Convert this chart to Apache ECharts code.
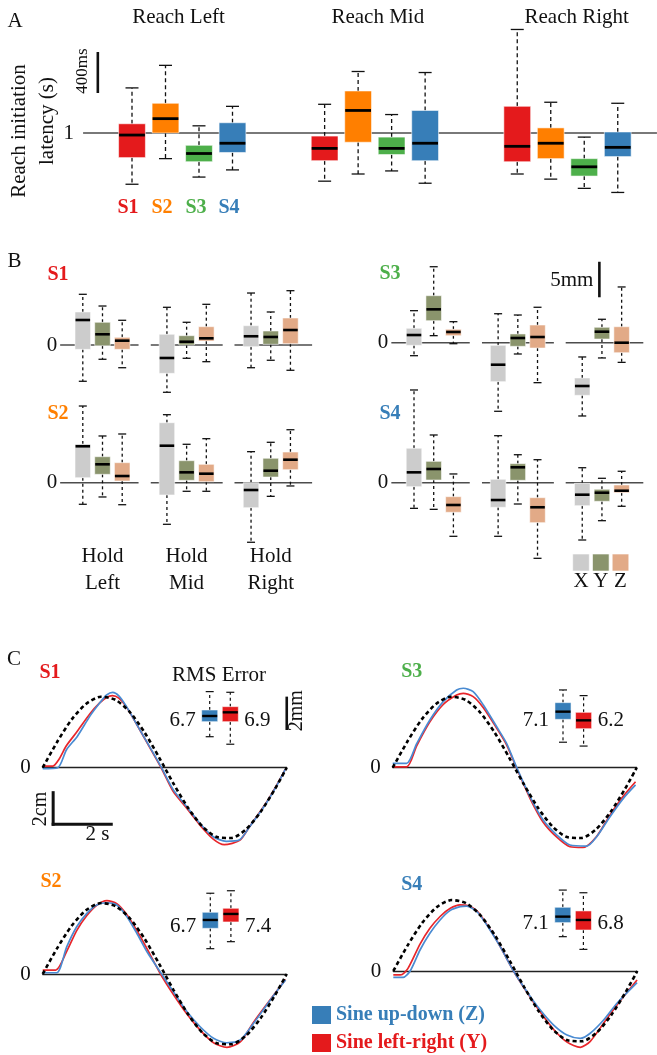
<!DOCTYPE html>
<html><head><meta charset="utf-8">
<script src="https://cdn.jsdelivr.net/npm/echarts@6/dist/echarts.min.js"></script>
<style>html,body{margin:0;padding:0;background:#fff}#c{width:657px;height:1055px}</style>
</head><body><div id="c"></div>
<script>
// ================= DATA =================
// ---- Panel A: reach initiation latency (s), [min, q1, median, q3, max] per reach target
const reachTargets = ['Reach Left', 'Reach Mid', 'Reach Right'];
const subjectNames = ['S1', 'S2', 'S3', 'S4'];
const latencyS1 = [[0.50, 0.76, 0.98, 1.09, 1.44], [0.53, 0.73, 0.85, 0.97, 1.28], [0.60, 0.72, 0.87, 1.26, 2.01]];
const latencyS2 = [[0.75, 1.00, 1.14, 1.29, 1.66], [0.60, 0.91, 1.22, 1.41, 1.60], [0.55, 0.75, 0.90, 1.05, 1.30]];
const latencyS3 = [[0.57, 0.72, 0.80, 0.88, 1.07], [0.63, 0.79, 0.85, 0.96, 1.18], [0.46, 0.58, 0.67, 0.75, 0.96]];
const latencyS4 = [[0.64, 0.81, 0.90, 1.10, 1.26], [0.51, 0.73, 0.90, 1.22, 1.59], [0.42, 0.77, 0.86, 1.01, 1.29]];
const latencyReference = 1;          // s
const latencyScaleBar = [1.39, 1.79]; // 400 ms bar

// ---- Panel B: hold error (mm), per hold target: [X, Y, Z] each [min, q1, median, q3, max]
const holdTargets = [['Hold', 'Left'], ['Hold', 'Mid'], ['Hold', 'Right']];
const holdAxes = ['X', 'Y', 'Z'];
const holdS1 = [
  [[-5.11, -0.61, 3.52, 4.65, 7.14], [-2.01, -0.10, 1.51, 3.20, 5.49], [-3.20, -0.61, 0.61, 1.08, 3.48]],
  [[-6.66, -3.99, -1.83, 1.51, 5.31], [-1.87, 0.00, 0.46, 1.31, 3.20], [-2.35, 0.56, 0.94, 2.58, 5.73]],
  [[-3.20, -0.24, 1.23, 2.72, 7.32], [-2.15, 0.10, 1.13, 1.97, 4.65], [-3.56, 0.18, 2.11, 3.80, 7.65]]
];
const holdS2 = [
  [[-3.04, 0.70, 5.13, 5.45, 10.80], [-2.01, 1.18, 2.59, 3.66, 6.58], [-3.10, 0.24, 0.94, 2.82, 6.86]],
  [[-5.86, -1.73, 5.21, 8.45, 9.58], [-1.21, 0.34, 1.46, 3.10, 5.41], [-1.21, 0.14, 1.27, 2.59, 6.20]],
  [[-8.39, -3.52, -1.03, 0.00, 4.37], [-1.92, 0.80, 1.69, 3.44, 5.69], [-0.46, 1.83, 3.24, 4.32, 7.46]]
];
const holdS3 = [
  [[-1.83, -0.37, 1.08, 2.03, 4.51], [0.99, 3.10, 4.70, 6.62, 10.70], [-0.14, 0.99, 1.51, 1.89, 2.96]],
  [[-9.66, -5.49, -3.10, -0.37, 4.08], [-1.59, -0.51, 0.66, 1.23, 3.90], [-5.63, -0.75, 0.80, 2.49, 4.99]],
  [[-10.32, -7.41, -6.10, -4.97, -2.01], [-2.15, 0.52, 1.55, 2.17, 3.30], [-2.77, -1.41, 0.00, 2.25, 7.85]]
];
const holdS4 = [
  [[-3.61, -0.56, 1.46, 4.85, 13.06], [-3.75, 0.38, 1.93, 3.01, 6.72], [-7.55, -4.17, -3.14, -1.97, 1.23]],
  [[-7.55, -3.46, -2.44, 0.48, 6.62], [-3.00, 0.34, 2.17, 2.68, 3.94], [-10.65, -5.63, -3.46, -2.11, 3.24]],
  [[-8.07, -3.24, -1.69, -0.08, 2.11], [-5.35, -2.62, -1.41, -0.93, 0.62], [-3.32, -1.41, -1.13, -0.32, 1.61]]
];
const holdScaleBar = [6.4, 11.4]; // 5 mm bar

// ---- Panel C: sine tracking traces, [time (s), position (cm)]
const targetSine = [[0, 0], [0.5, 1.64], [1, 3.06], [1.5, 4.05], [2, 4.49], [2.5, 4.30], [3, 3.52], [3.5, 2.25], [4, 0.67],
  [4.5, -1.00], [5, -2.53], [5.5, -3.72], [6, -4.39], [6.5, -4.45], [7, -3.90], [7.5, -2.80], [8, -1.33], [8.4, 0]];
const traceS1Z = [[0, -0.06], [0.52, 0], [0.82, 1.14], [1.19, 1.98], [1.62, 3.25], [1.96, 4.09], [2.2, 4.6], [2.41, 4.77], [2.62, 4.55],
  [2.88, 3.88], [3.34, 2.41], [3.74, 1.14], [4.09, 0], [4.49, -1.39], [4.95, -2.45], [5.40, -3.50], [5.86, -4.35], [6.32, -4.66],
  [6.78, -4.56], [7.13, -3.72], [7.70, -2.23], [8.04, -1.18], [8.35, -0.1]];
const traceS1Y = [[0, 0.1], [0.35, 0.1], [0.55, 0.5], [0.82, 1.4], [1.19, 2.3], [1.62, 3.4], [1.96, 4.1], [2.2, 4.45], [2.4, 4.56],
  [2.62, 4.4], [2.88, 3.85], [3.34, 2.4], [3.74, 1.1], [4.09, -0.05], [4.49, -1.5], [4.95, -2.55], [5.40, -3.6], [5.86, -4.5],
  [6.25, -4.87], [6.78, -4.6], [7.13, -3.7], [7.70, -2.2], [8.04, -1.15], [8.35, -0.1]];
const traceS2Z = [[0, 0.08], [0.48, 0.08], [0.83, 1.73], [1.17, 2.99], [1.52, 3.84], [1.86, 4.37], [2.21, 4.51], [2.55, 4.37],
  [2.90, 3.63], [3.24, 2.58], [3.59, 1.41], [4.04, 0.15], [4.50, -1.12], [4.97, -2.39], [5.42, -3.34], [5.88, -4.07],
  [6.34, -4.35], [6.80, -4.18], [7.26, -3.12], [7.72, -1.94], [8.07, -1.06], [8.36, -0.38]];
const traceS2Y = [[0, 0.25], [0.45, 0.25], [0.83, 1.45], [1.17, 2.75], [1.52, 3.7], [1.86, 4.35], [2.21, 4.64], [2.55, 4.45],
  [2.90, 3.75], [3.24, 2.75], [3.59, 1.6], [4.04, 0.05], [4.50, -1.3], [4.97, -2.55], [5.42, -3.55], [5.88, -4.35],
  [6.34, -4.64], [6.80, -4.3], [7.26, -3.05], [7.72, -1.9], [8.07, -1.05], [8.36, -0.35]];
const traceS3Z = [[0, 0.28], [0.48, 0.28], [0.83, 1.54], [1.28, 3.02], [1.74, 4.18], [2.20, 4.92], [2.43, 5.03], [2.77, 4.81],
  [3.12, 3.97], [3.58, 2.59], [3.92, 1.54], [4.27, 0], [4.73, -1.84], [5.18, -3.31], [5.65, -4.26], [6.10, -4.89],
  [6.68, -4.96], [7.02, -4.37], [7.48, -3.10], [7.94, -1.94], [8.36, -1.09]];
const traceS3Y = [[0, 0.05], [0.48, 0.05], [0.83, 1.4], [1.28, 2.9], [1.74, 4.0], [2.20, 4.6], [2.43, 4.71], [2.77, 4.5],
  [3.12, 3.8], [3.58, 2.5], [3.92, 1.45], [4.27, -0.05], [4.73, -1.95], [5.18, -3.45], [5.65, -4.4], [6.10, -5.0],
  [6.55, -5.05], [7.02, -4.35], [7.48, -3.0], [7.94, -1.8], [8.36, -0.89]];
const traceS4Z = [[0, -0.40], [0.34, -0.40], [0.58, 0], [0.92, 1.33], [1.26, 2.39], [1.61, 3.23], [1.95, 3.82], [2.30, 4.07],
  [2.53, 4.11], [2.88, 3.75], [3.22, 2.91], [3.68, 1.54], [4.14, 0], [4.60, -1.31], [5.06, -2.47], [5.52, -3.42],
  [5.98, -4.05], [6.44, -4.26], [6.78, -3.94], [7.24, -3.10], [7.70, -2.04], [8.39, -0.74]];
const traceS4Y = [[0, -0.25], [0.25, -0.25], [0.5, 0.15], [0.92, 1.7], [1.26, 2.7], [1.61, 3.45], [1.95, 3.95], [2.30, 4.18],
  [2.53, 4.15], [2.88, 3.8], [3.22, 2.95], [3.68, 1.55], [4.14, 0], [4.60, -1.35], [5.06, -2.6], [5.52, -3.7],
  [5.98, -4.5], [6.44, -4.83], [6.78, -4.45], [7.24, -3.3], [7.70, -2.15], [8.39, -0.57]];
// RMS error (mm) boxes [min, q1, median, q3, max]: [up-down (Z), left-right (Y)]
const rmsS1 = [[5.46, 6.36, 6.70, 7.06, 8.16], [5.01, 6.36, 6.92, 7.26, 8.12]];
const rmsS2 = [[5.12, 6.34, 6.84, 7.30, 8.44], [5.54, 6.72, 7.20, 7.54, 8.59]];
const rmsS3 = [[5.13, 6.50, 6.96, 7.50, 8.26], [4.90, 5.94, 6.44, 6.92, 7.92]];
const rmsS4 = [[5.66, 6.50, 6.86, 7.42, 8.45], [4.90, 6.06, 6.66, 7.20, 8.29]];
const rmsLabelsS1 = ['6.7', '6.9'];
const rmsLabelsS2 = ['6.7', '7.4'];
const rmsLabelsS3 = ['7.1', '6.2'];
const rmsLabelsS4 = ['7.1', '6.8'];
const traceScaleBar = { t0: 0.36, v0: -3.58, dv: 2, dt: 2 };  // 2 cm, 2 s
const rmsScaleBar = [5.86, 7.86];                               // 2 mm
const legendNames = ['Sine up-down (Z)', 'Sine left-right (Y)'];

// ================= STYLE =================
const SERIF = "'Liberation Serif','Times New Roman','DejaVu Serif',serif";
const INK = '#111';
const subjectColors = ['#e41a1c', '#ff7f00', '#4daf4a', '#377eb8'];
const axisColors = ['#cccccc', '#8a946c', '#e2aa87'];
const traceBlue = '#4a8bd2', traceRed = '#e8262b';

// ================= LAYOUT =================
const grids = [], xAxes = [], yAxes = [], series = [], graphics = [];
function addGrid(box, xr, yr, yAxisExtra, xAxisExtra) {
  const idx = grids.length;
  grids.push(Object.assign({ containLabel: false, outerBoundsMode: 'none', show: false }, box));
  xAxes.push(Object.assign({ gridIndex: idx, type: 'value', min: xr[0], max: xr[1], show: false }, xAxisExtra || {}));
  yAxes.push(Object.assign({ gridIndex: idx, type: 'value', min: yr[0], max: yr[1], show: false }, yAxisExtra || {}));
  return idx;
}
function singleLabelAxis(val, text, margin, size) {
  return {
    show: true, interval: 0.5, axisLine: { show: false }, axisTick: { show: false }, splitLine: { show: false },
    axisLabel: { show: true, margin: margin, fontFamily: SERIF, fontSize: size, color: INK,
      formatter: v => (Math.abs(v - val) < 1e-6 ? text : '') }
  };
}
function makeBoxRenderer(cfg) {
  return function (params, api) {
    const x = api.value(0);
    const pMin = api.coord([x, api.value(1)]);
    const pQ1 = api.coord([x, api.value(2)]);
    const pMed = api.coord([x, api.value(3)]);
    const pQ3 = api.coord([x, api.value(4)]);
    const pMax = api.coord([x, api.value(5)]);
    const cx = pMed[0];
    const bw = api.size([cfg.boxWidth, 0])[0];
    const cw = cfg.capWidth;
    const fill = cfg.colors ? cfg.colors[params.dataIndex] : cfg.color;
    const dashStyle = { stroke: INK, lineWidth: cfg.whiskerWidth, lineDash: cfg.dash };
    const capStyle = { stroke: INK, lineWidth: cfg.whiskerWidth };
    const ch = [
      { type: 'line', shape: { x1: cx, y1: pQ3[1], x2: cx, y2: pMax[1] }, style: dashStyle },
      { type: 'line', shape: { x1: cx, y1: pQ1[1], x2: cx, y2: pMin[1] }, style: dashStyle },
      { type: 'line', shape: { x1: cx - cw / 2, y1: pMax[1], x2: cx + cw / 2, y2: pMax[1] }, style: capStyle },
      { type: 'line', shape: { x1: cx - cw / 2, y1: pMin[1], x2: cx + cw / 2, y2: pMin[1] }, style: capStyle },
      { type: 'rect', shape: { x: cx - bw / 2, y: pQ3[1], width: bw, height: pQ1[1] - pQ3[1] },
        style: { fill: fill, stroke: 'rgba(255,255,255,0.55)', lineWidth: 1 } },
      { type: 'line', shape: { x1: cx - bw / 2 + 0.5, y1: pMed[1], x2: cx + bw / 2 - 0.5, y2: pMed[1] },
        style: { stroke: '#000', lineWidth: cfg.medianWidth } }
    ];
    if (cfg.labels) {
      const left = params.dataIndex === 0;
      const ly = api.coord([x, cfg.labelAt])[1] + 4;
      ch.push({ type: 'text', x: left ? cx - bw / 2 - 6 : cx + bw / 2 + 6, y: ly,
        style: { text: cfg.labels[params.dataIndex], font: '21px ' + SERIF, fill: INK,
          textAlign: left ? 'right' : 'left', textVerticalAlign: 'middle', align: left ? 'right' : 'left', verticalAlign: 'middle' } });
    }
    return { type: 'group', children: ch };
  };
}
function segmentSeries(gi, segs, style, z) {
  return {
    type: 'custom', xAxisIndex: gi, yAxisIndex: gi, silent: true, z: z || 1,
    data: segs,
    renderItem: function (params, api) {
      const p1 = api.coord([api.value(0), api.value(1)]);
      const p2 = api.coord([api.value(2), api.value(3)]);
      return { type: 'line', shape: { x1: p1[0], y1: p1[1], x2: p2[0], y2: p2[1] }, style: style };
    }
  };
}
function T(x, y, text, size, opt) {
  opt = opt || {};
  const al = opt.align || 'center';
  graphics.push({ type: 'text', x: x, y: y, rotation: opt.rot || 0, silent: true, z: 100,
    style: { text: text, font: (opt.bold ? 'bold ' : '') + size + 'px ' + SERIF, fill: opt.color || INK,
      textAlign: al, textVerticalAlign: 'middle', align: al, verticalAlign: 'middle' } });
}

// ---------- Panel A ----------
const A_px = 33.5, A_py = 102.5, A_x0 = 132, A_y1 = 133;  // px per unit, anchor pixels
const A_xr = [-0.46, 16.67], A_yr = [0.4, 2.1], A_groupStep = 5.75;
const gA = addGrid({ left: A_x0 + (A_xr[0] - 1) * A_px, top: A_y1 - (A_yr[1] - 1) * A_py,
  width: (A_xr[1] - A_xr[0]) * A_px, height: (A_yr[1] - A_yr[0]) * A_py }, A_xr, A_yr,
  Object.assign(singleLabelAxis(latencyReference, '1', 9, 21), { interval: 0.1 }));
series.push(segmentSeries(gA, [[A_xr[0], latencyReference, A_xr[1], latencyReference]], { stroke: '#4d4d4d', lineWidth: 1.5 }, 1));
[latencyS1, latencyS2, latencyS3, latencyS4].forEach((arr, s) => {
  series.push({ type: 'custom', name: subjectNames[s], xAxisIndex: gA, yAxisIndex: gA, silent: true, z: 3,
    renderItem: makeBoxRenderer({ color: subjectColors[s], boxWidth: 0.8, capWidth: 13, whiskerWidth: 1.3, dash: [4, 3], medianWidth: 2.8 }),
    data: arr.map((q, g) => [A_groupStep * g + s + 1].concat(q)) });
});
series.push(segmentSeries(gA, [[-0.02, latencyScaleBar[0], -0.02, latencyScaleBar[1]]], { stroke: INK, lineWidth: 2.6 }, 4));
T(15, 21, 'A', 21);
const A_titleX = [178.5, 377.8, 576.7];
reachTargets.forEach((t, i) => T(A_titleX[i], 17, t, 21));
[128, 162, 196, 229].forEach((x, s) => T(x, 207.5, subjectNames[s], 20, { bold: true, color: subjectColors[s] }));
T(19, 131, 'Reach initiation', 21, { rot: Math.PI / 2 });
T(47, 121, 'latency (s)', 21, { rot: Math.PI / 2 });
T(83, 71, '400ms', 17, { rot: Math.PI / 2 });

// ---------- Panel B ----------
const B_px = 19.7, B_py = 7.1, B_xr = [-1.1, 11.69], B_yr = [-11, 14], B_groupStep = 4.27;
const B_segStart = [-1.15, -0.82, -0.84], B_segEnd = [2.83, 2.83, 3.1];
const B_cells = [
  { data: holdS1, x0: 82.8, y0: 345, lx: 58, ly: 274.5 },
  { data: holdS2, x0: 82.8, y0: 482.7, lx: 58, ly: 414.2 },
  { data: holdS3, x0: 414, y0: 342.7, lx: 390, ly: 273.5 },
  { data: holdS4, x0: 414, y0: 482.7, lx: 390, ly: 414.2 }
];
const gB = [];
B_cells.forEach((cell, s) => {
  const gi = addGrid({ left: cell.x0 + B_xr[0] * B_px, top: cell.y0 - B_yr[1] * B_py,
    width: (B_xr[1] - B_xr[0]) * B_px, height: (B_yr[1] - B_yr[0]) * B_py }, B_xr, B_yr,
    Object.assign(singleLabelAxis(0, '0', 4, 21), { interval: 1 }));
  gB.push(gi);
  series.push(segmentSeries(gi, B_segStart.map((st, g) => [g * B_groupStep + st, 0, g * B_groupStep + B_segEnd[g], 0]),
    { stroke: '#4d4d4d', lineWidth: 1.5 }, 1));
  holdAxes.forEach((ax, k) => {
    series.push({ type: 'custom', name: subjectNames[s] + ' ' + ax, xAxisIndex: gi, yAxisIndex: gi, silent: true, z: 3,
      renderItem: makeBoxRenderer({ color: axisColors[k], boxWidth: 0.79, capWidth: 8, whiskerWidth: 1.3, dash: [3, 3], medianWidth: 2.6 }),
      data: cell.data.map((grp, g) => [g * B_groupStep + k].concat(grp[k])) });
  });
  T(cell.lx, cell.ly, subjectNames[s], 20, { bold: true, color: subjectColors[s] });
});
series.push(segmentSeries(gB[2], [[9.41, holdScaleBar[0], 9.41, holdScaleBar[1]]], { stroke: INK, lineWidth: 2.6 }, 4));
T(14.5, 261, 'B', 21);
T(593.3, 280.7, '5mm', 21, { align: 'right' });
const B_holdX = [102.5, 186.5, 270.8];
holdTargets.forEach((h, i) => { T(B_holdX[i], 556.5, h[0], 21); T(B_holdX[i], 583, h[1], 21); });
const B_legX = [581, 600.8, 620.5];
holdAxes.forEach((ax, k) => {
  graphics.push({ type: 'rect', x: B_legX[k] - 8.3, y: 554, silent: true, z: 100,
    shape: { x: 0, y: 0, width: 16.6, height: 17 }, style: { fill: axisColors[k], stroke: 'rgba(255,255,255,0.6)', lineWidth: 1 } });
  T(B_legX[k], 581.5, ax, 21);
});

// ---------- Panel C ----------
const C_px = 29.05, C_py = 15.8, C_xr = [0, 8.4], C_yr = [-5.5, 5.5];
const M_px = 20.6, M_py = 16.7, M_xr = [0.5, 2.5], M_yr = [4.5, 9], M_ref = 6.7;
const C_cells = [
  { z: traceS1Z, y: traceS1Y, rms: rmsS1, lab: rmsLabelsS1, x0: 42.7, y0: 767.7, mx: 209.7, lx: 50, ly: 672.5 },
  { z: traceS2Z, y: traceS2Y, rms: rmsS2, lab: rmsLabelsS2, x0: 42.7, y0: 974, mx: 210.3, lx: 51, ly: 881.8 },
  { z: traceS3Z, y: traceS3Y, rms: rmsS3, lab: rmsLabelsS3, x0: 392.7, y0: 767.7, mx: 563, lx: 411.7, ly: 671.8 },
  { z: traceS4Z, y: traceS4Y, rms: rmsS4, lab: rmsLabelsS4, x0: 393.3, y0: 971, mx: 562.8, lx: 411.7, ly: 884.5 }
];
const gC = [], gM = [];
C_cells.forEach((cell, s) => {
  const gi = addGrid({ left: cell.x0, top: cell.y0 - C_yr[1] * C_py, width: (C_xr[1] - C_xr[0]) * C_px,
    height: (C_yr[1] - C_yr[0]) * C_py }, C_xr, C_yr,
    singleLabelAxis(0, '0', 12, 21),
    { show: true, axisLine: { show: true, onZero: true, lineStyle: { color: '#222', width: 1.3 } },
      axisTick: { show: false }, axisLabel: { show: false }, splitLine: { show: false } });
  gC.push(gi);
  const lineBase = { type: 'line', xAxisIndex: gi, yAxisIndex: gi, showSymbol: false, symbol: 'none', smooth: 0.25, silent: true };
  series.push(Object.assign({}, lineBase, { name: legendNames[1], data: cell.y, z: 2,
    lineStyle: { color: traceRed, width: 1.7 }, itemStyle: { color: subjectColors[0] } }));
  series.push(Object.assign({}, lineBase, { name: legendNames[0], data: cell.z, z: 3,
    lineStyle: { color: traceBlue, width: 1.7 }, itemStyle: { color: subjectColors[3] } }));
  series.push(Object.assign({}, lineBase, { name: 'Target', data: targetSine, z: 4,
    lineStyle: { color: '#000', width: 2.6, type: [4, 3] } }));
  // RMS mini box plot
  const anchor = cell.y0 - 51.7;
  const mi = addGrid({ left: cell.mx - (1 - M_xr[0]) * M_px, top: anchor - (M_yr[1] - M_ref) * M_py,
    width: (M_xr[1] - M_xr[0]) * M_px, height: (M_yr[1] - M_yr[0]) * M_py }, M_xr, M_yr);
  gM.push(mi);
  series.push({ type: 'custom', name: 'RMS ' + subjectNames[s], xAxisIndex: mi, yAxisIndex: mi, silent: true, z: 5,
    renderItem: makeBoxRenderer({ colors: [subjectColors[3], subjectColors[0]], boxWidth: 0.78, capWidth: 8, whiskerWidth: 1.2,
      dash: [3, 3], medianWidth: 2.4, labels: cell.lab, labelAt: M_ref }),
    data: cell.rms.map((q, i) => [i + 1].concat(q)) });
  T(cell.lx, cell.ly, subjectNames[s], 20, { bold: true, color: subjectColors[s] });
});
series.push(segmentSeries(gC[0], [
  [traceScaleBar.t0, traceScaleBar.v0, traceScaleBar.t0, traceScaleBar.v0 + traceScaleBar.dv],
  [traceScaleBar.t0, traceScaleBar.v0, traceScaleBar.t0 + traceScaleBar.dt, traceScaleBar.v0]
], { stroke: INK, lineWidth: 3, lineCap: 'square' }, 6));
series.push(segmentSeries(gM[0], [[4.74, rmsScaleBar[0], 4.74, rmsScaleBar[1]]], { stroke: INK, lineWidth: 2.6 }, 6));
T(14, 659, 'C', 21);
T(219, 675, 'RMS Error', 21);
T(296.7, 710.8, '2mm', 20, { rot: Math.PI / 2 });
T(40.5, 809, '2cm', 20, { rot: Math.PI / 2 });
T(97.5, 834, '2 s', 21);

const option = {
  animation: false,
  backgroundColor: '#fff',
  grid: grids, xAxis: xAxes, yAxis: yAxes, series: series,
  legend: {
    left: 312, top: 1005, orient: 'vertical', padding: 0, itemWidth: 19, itemHeight: 18, itemGap: 8,
    selectedMode: false, icon: 'rect', itemStyle: { borderWidth: 0 },
    textStyle: { fontFamily: SERIF, fontSize: 20, fontWeight: 'bold' },
    data: [
      { name: legendNames[0], icon: 'rect', itemStyle: { color: subjectColors[3] }, textStyle: { color: subjectColors[3] } },
      { name: legendNames[1], icon: 'rect', itemStyle: { color: subjectColors[0] }, textStyle: { color: subjectColors[0] } }
    ]
  },
  graphic: graphics
};
const chart = echarts.init(document.getElementById('c'), null, { renderer: 'canvas', width: 657, height: 1055 });
chart.setOption(option);
</script></body></html>
